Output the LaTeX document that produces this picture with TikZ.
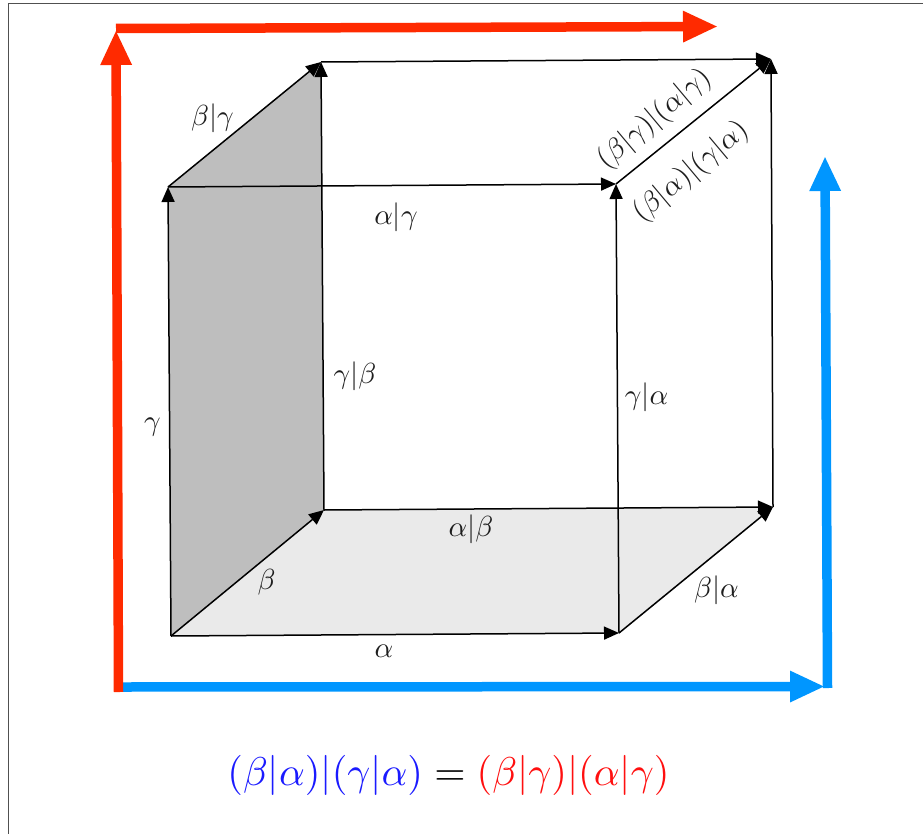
\documentclass[tikz,border=0pt]{standalone}
\usetikzlibrary{arrows.meta}
\definecolor{bigred}{HTML}{FF2A00}
\definecolor{bigblue}{HTML}{0096FF}
\definecolor{eqblue}{HTML}{1A1AFF}
\definecolor{eqred}{HTML}{FF0F0F}
\definecolor{framegray}{HTML}{505050}
\definecolor{labelgray}{HTML}{1E1E1E}
\tikzset{
  edge/.style={draw=black,line width=1.5pt,-{Triangle[length=15pt,width=13pt]}},
  bigarrow/.style={line width=9.5pt,-{Triangle[length=35pt,width=29pt]}},
  lab/.style={inner sep=0pt,scale=2.9,text=labelgray},
  eq/.style={inner sep=0pt,scale=4.02},
}
\begin{document}
\begin{tikzpicture}[x=1pt,y=-1pt]
\useasboundingbox (0,0) rectangle (923,834);
% vertices
\coordinate (A) at (171,636);
\coordinate (B) at (619,633);
\coordinate (C) at (324,510);
\coordinate (D) at (773,507);
\coordinate (E) at (168,187);
\coordinate (F) at (616,184);
\coordinate (G) at (321,62);
\coordinate (H) at (771,59);
% big arrow end points
\coordinate (Rs) at (118.5,692);
\coordinate (Rt) at (116,30);
\coordinate (Rb) at (116,28.5);
\coordinate (Re) at (718,26.5);
\coordinate (Bs) at (123,687);
\coordinate (Bt) at (825,686.5);
\coordinate (Bb) at (827.5,688);
\coordinate (Be) at (825,156);
% frame
\coordinate (Fa) at (8.5,834);
\coordinate (Fb) at (8.5,3.5);
\coordinate (Fc) at (923,3.5);
\draw[framegray,line width=1.1pt] (Fa) -- (Fb) -- (Fc);
% faces
\fill[fill={rgb,255:red,190;green,190;blue,190}] (A) -- (E) -- (G) -- (C) -- cycle;
\fill[fill={rgb,255:red,234;green,234;blue,234}] (A) -- (B) -- (D) -- (C) -- cycle;
% edges
\draw[edge] (A) -- (E);
\draw[edge] (E) -- (G);
\draw[edge] (C) -- (G);
\draw[edge] (A) -- (C);
\draw[edge] (E) -- (F);
\draw[edge] (A) -- (B);
\draw[edge] (C) -- (D);
\draw[edge] (B) -- (F);
\draw[edge] (B) -- (D);
\draw[edge] (D) -- (H);
\draw[edge] (G) -- (H);
\draw[edge] (F) -- (H);
% big arrows
\draw[bigarrow,bigblue] (Bb) -- (Be);
\draw[bigarrow,bigblue] (Bs) -- (Bt);
\draw[bigarrow,bigred] (Rb) -- (Re);
\draw[bigarrow,bigred] (Rs) -- (Rt);
% labels
\node[lab] (l1) at (212.5,118) {$\beta|\gamma$};
\node[lab] (l2) at (396,217) {$\alpha|\gamma$};
\node[lab] (l3) at (355,376) {$\gamma|\beta$};
\node[lab] (l4) at (646.5,397) {$\gamma|\alpha$};
\node[lab] (l5) at (152.5,427) {$\gamma$};
\node[lab] (l6) at (266.5,582) {$\beta$};
\node[lab] (l7) at (471,529) {$\alpha|\beta$};
\node[lab] (l8) at (384,651) {$\alpha$};
\node[lab] (l9) at (716.5,590) {$\beta|\alpha$};
\node[lab,rotate=40] (l10) at (654.5,119) {$(\beta|\gamma)|(\alpha|\gamma)$};
\node[lab,rotate=40] (l11) at (691,172) {$(\beta|\alpha)|(\gamma|\alpha)$};
\node[eq] (eqn) at (448.5,775) {$\textcolor{eqblue}{(\beta|\alpha)|(\gamma|\alpha)}=\textcolor{eqred}{(\beta|\gamma)|(\alpha|\gamma)}$};
\end{tikzpicture}
\end{document}
